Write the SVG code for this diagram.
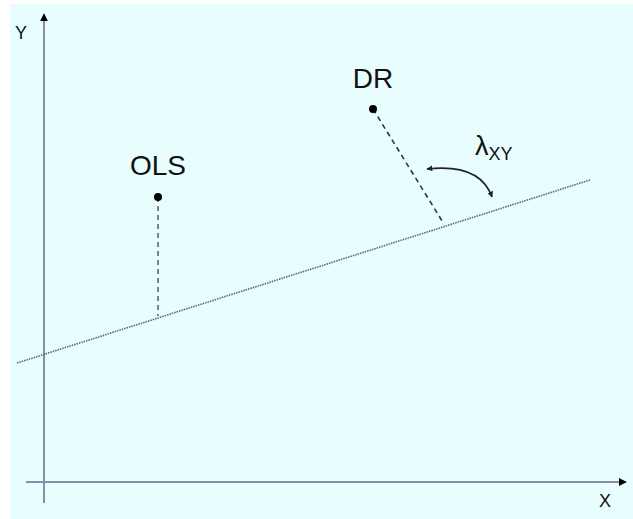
<svg xmlns="http://www.w3.org/2000/svg" width="633" height="519" viewBox="0 0 633 519">
<style>
text{font-family:"Liberation Sans",Arial,sans-serif;fill:#111}
.axis{stroke:#8391a6;stroke-width:2;fill:none}
.dash{stroke:#333;stroke-width:1.6;stroke-dasharray:5,4;fill:none}
.reg{stroke:#5a6478;stroke-width:1.6;stroke-dasharray:1.5,1;fill:none}
</style>
<defs>
<marker id="ah" viewBox="0 0 10 10" refX="9" refY="5" markerWidth="8" markerHeight="8" markerUnits="userSpaceOnUse" orient="auto">
<path d="M0,0 L10,5 L0,10 z" fill="#000"/>
</marker>
<marker id="sa" viewBox="0 0 10 10" refX="9" refY="5" markerWidth="6" markerHeight="6" markerUnits="userSpaceOnUse" orient="auto-start-reverse">
<path d="M0,0 L10,5 L0,10 z" fill="#222"/>
</marker>
</defs>
<rect x="10" y="4" width="623" height="515" fill="#e8fefe"/>
<g id="connectors">
<line class="axis" x1="44" y1="503" x2="44" y2="14" marker-end="url(#ah)"/>
<line class="axis" x1="26" y1="482" x2="626" y2="482" marker-end="url(#ah)"/>
<line class="reg" x1="17" y1="363" x2="590" y2="180"/>
<line class="dash" x1="158" y1="197" x2="158" y2="316" style="stroke:#666"/>
<line class="dash" x1="373" y1="109" x2="444" y2="224"/>
<path d="M427,169 Q480,163 492,197" fill="none" stroke="#222" stroke-width="1.6" marker-start="url(#sa)" marker-end="url(#sa)"/>
</g>
<g id="axis-y"><text x="21" y="39" font-size="18" text-anchor="middle">Y</text></g>
<g id="axis-x"><text x="605" y="507" font-size="18" text-anchor="middle">X</text></g>
<g id="ols">
<circle cx="158" cy="197" r="4" fill="#000"/>
<text x="158" y="175" font-size="28" text-anchor="middle">OLS</text>
</g>
<g id="dr">
<circle cx="373" cy="109" r="4" fill="#000"/>
<text x="373" y="88" font-size="28" text-anchor="middle">DR</text>
</g>
<g id="lambda">
<text x="475" y="155" font-size="27">λ<tspan font-size="18" dy="5">XY</tspan></text>
</g>
</svg>
